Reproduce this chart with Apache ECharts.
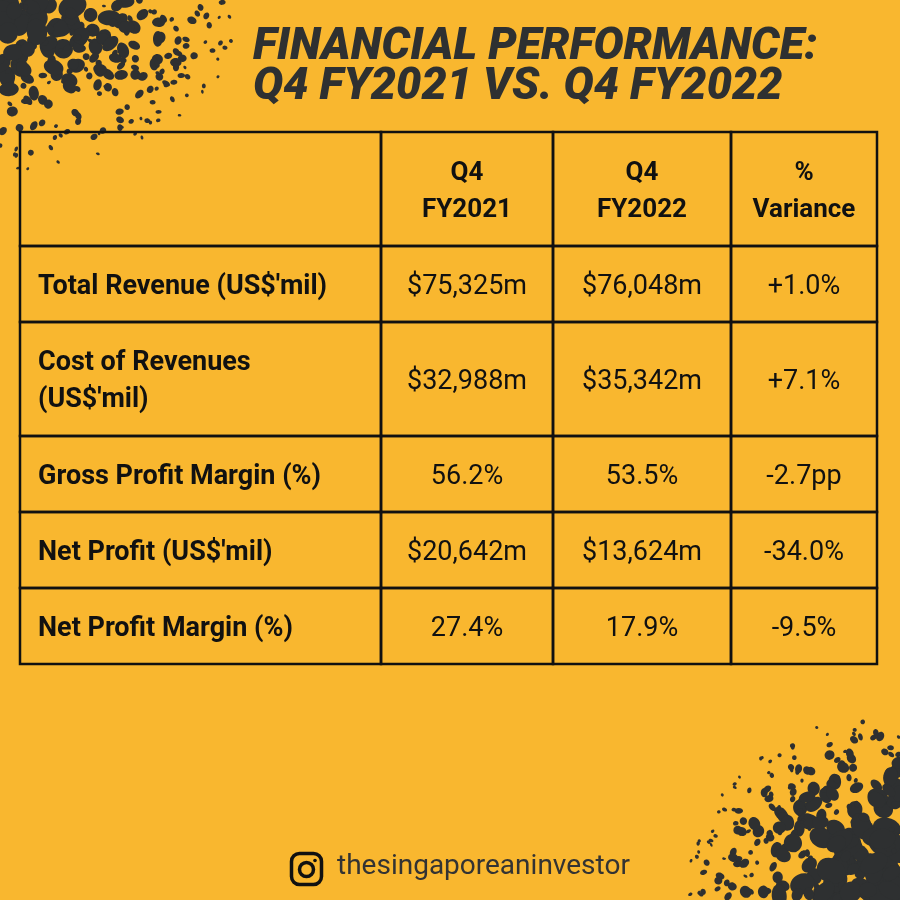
<!DOCTYPE html>
<html>
<head>
<meta charset="utf-8">
<script src="https://cdn.jsdelivr.net/npm/echarts@6/dist/echarts.min.js"></script>
<style>
  html, body { margin: 0; padding: 0; background: #F9B72F; }
  #main { width: 900px; height: 900px; }
</style>
</head>
<body>
<div id="main"></div>
<script>
// table content
var headers = ['', 'Q4\nFY2021', 'Q4\nFY2022', '%\nVariance'];
var metrics = ["Total Revenue (US$'mil)", "Cost of Revenues\n(US$'mil)", 'Gross Profit Margin (%)', "Net Profit (US$'mil)", 'Net Profit Margin (%)'];
var fy2021 = ['$75,325m', '$32,988m', '56.2%', '$20,642m', '27.4%'];
var fy2022 = ['$76,048m', '$35,342m', '53.5%', '$13,624m', '17.9%'];
var variance = ['+1.0%', '+7.1%', '-2.7pp', '-34.0%', '-9.5%'];

var titleLines = ['FINANCIAL PERFORMANCE:', 'Q4 FY2021 VS. Q4 FY2022'];
var handle = 'thesingaporeaninvestor';

// layout
var colEdges = [0, 361, 533, 711, 857];
var ink = '#111111';
var dark = '#2e3031';

function lineCount(s) { return s.split('\n').length; }

// build cells: [col, yStart, yEnd, text, isHeader]
var rows = [headers];
for (var i = 0; i < metrics.length; i++) {
    rows.push([metrics[i], fy2021[i], fy2022[i], variance[i]]);
}
var cells = [];
var yPos = 0;
rows.forEach(function (row, r) {
    var units = Math.max.apply(null, row.map(lineCount)) + 1;
    row.forEach(function (txt, c) {
        cells.push([c, yPos, yPos + units, txt, r === 0 ? 1 : 0]);
    });
    yPos += units;
});
var totalUnits = yPos;

// decorative splatter (seeded, not data)
var seed = 11;
function rnd() { seed = (seed * 16807) % 2147483647; return (seed - 1) / 2147483646; }
function splatter(cx, cy, sx, sy, rx, ry, n, maxR) {
    var out = [];
    for (var k = 0; k < n; k++) {
        var a = rnd() * Math.PI / 2;
        var d = Math.pow(rnd(), 0.7);
        var x = cx + sx * Math.cos(a) * d * rx;
        var y = cy + sy * Math.sin(a) * d * ry;
        var r = 1.5 + rnd() * maxR * Math.pow(1 - d, 0.9);
        out.push({
            type: 'ellipse',
            silent: true,
            z: 1,
            x: x, y: y,
            rotation: rnd() * Math.PI,
            shape: { cx: 0, cy: 0, rx: r * (0.75 + rnd() * 0.3), ry: r * (0.95 + rnd() * 0.4) },
            style: { fill: dark }
        });
    }
    return out;
}

var graphics = []
    .concat(splatter(0, 0, 1, 1, 245, 170, 240, 13))
    .concat(splatter(900, 900, -1, -1, 215, 190, 280, 17));

graphics.push({
    type: 'text', left: 253, top: 25, z: 5,
    style: { text: titleLines[0], fill: dark, font: 'italic 900 45px Roboto' }
});
graphics.push({
    type: 'text', left: 253, top: 65, z: 5,
    style: { text: titleLines[1], fill: dark, font: 'italic 900 45px Roboto' }
});

// footer: instagram glyph + handle
graphics.push({
    type: 'group', x: 290, y: 852, z: 5,
    children: [
        { type: 'rect', shape: { x: 1.5, y: 1.5, width: 30, height: 31, r: 8 }, style: { fill: 'none', stroke: ink, lineWidth: 3.5 } },
        { type: 'circle', shape: { cx: 16.5, cy: 17.5, r: 7 }, style: { fill: 'none', stroke: ink, lineWidth: 3.5 } },
        { type: 'circle', shape: { cx: 25, cy: 8.5, r: 1.8 }, style: { fill: ink } }
    ]
});
graphics.push({
    type: 'text', left: 337, top: 853, z: 5,
    style: { text: handle, fill: '#333333', font: '28px Roboto' }
});

var chart = echarts.init(document.getElementById('main'));

chart.setOption({
    backgroundColor: '#F9B72F',
    animation: false,
    grid: { left: 20, top: 132, width: 857, height: 532 },
    xAxis: { type: 'value', min: 0, max: colEdges[colEdges.length - 1], show: false },
    yAxis: { type: 'value', min: 0, max: totalUnits, inverse: true, show: false },
    graphic: graphics,
    series: [{
        type: 'custom',
        z: 3,
        data: cells,
        encode: { x: 0, y: [1, 2] },
        renderItem: function (params, api) {
            var col = api.value(0);
            var p0 = api.coord([colEdges[col], api.value(1)]);
            var p1 = api.coord([colEdges[col + 1], api.value(2)]);
            var txt = cells[params.dataIndex][3];
            var isHeader = api.value(4) === 1;
            var bold = isHeader || col === 0;
            var left = col === 0;
            return {
                type: 'group',
                children: [{
                    type: 'rect',
                    shape: { x: p0[0], y: p0[1], width: p1[0] - p0[0], height: p1[1] - p0[1] },
                    style: { fill: 'none', stroke: ink, lineWidth: 2.5 }
                }, {
                    type: 'text',
                    style: {
                        text: txt,
                        x: left ? p0[0] + 18 : (p0[0] + p1[0]) / 2,
                        y: (p0[1] + p1[1]) / 2 + 3,
                        align: left ? 'left' : 'center',
                        verticalAlign: 'middle',
                        fill: ink,
                        fontFamily: 'Roboto',
                        fontSize: isHeader ? 26 : 27,
                        fontWeight: bold ? 'bold' : 'normal',
                        lineHeight: 37
                    }
                }]
            };
        }
    }]
});
</script>
</body>
</html>
